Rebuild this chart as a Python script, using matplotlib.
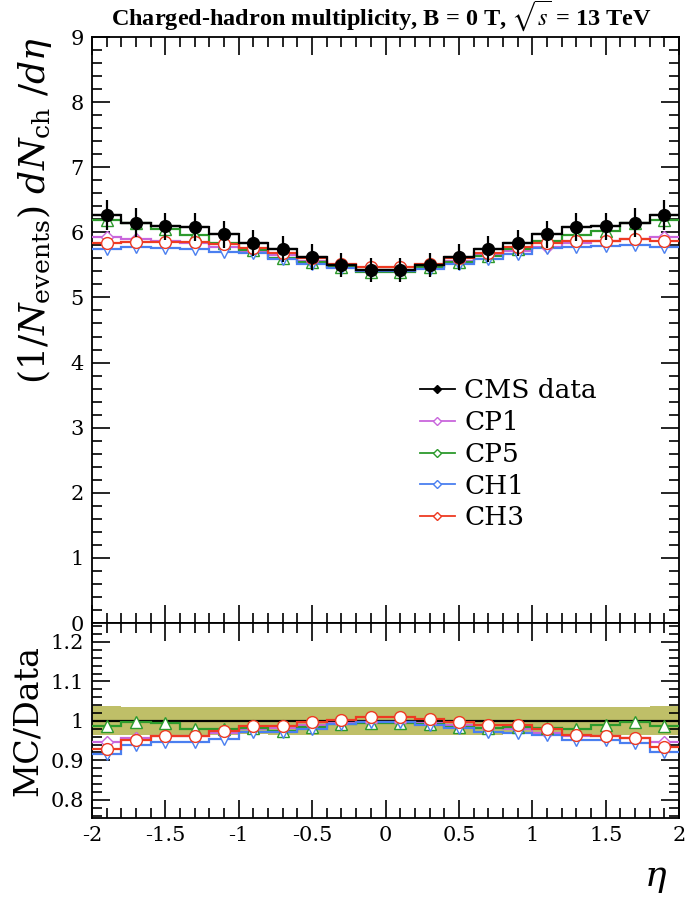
import matplotlib
matplotlib.use("Agg")
import matplotlib.pyplot as plt
from matplotlib.lines import Line2D
from matplotlib.ticker import MultipleLocator, FuncFormatter
import numpy as np

# ---------------- data ----------------
eta_edges = [-2.0, -1.8, -1.6, -1.4, -1.2, -1.0, -0.8, -0.6, -0.4, -0.2, 0.0,
             0.2, 0.4, 0.6, 0.8, 1.0, 1.2, 1.4, 1.6, 1.8, 2.0]

data_vals = [6.27, 6.15, 6.09, 6.08, 5.97, 5.84, 5.75, 5.62, 5.50, 5.42,
             5.42, 5.50, 5.62, 5.75, 5.84, 5.97, 6.08, 6.09, 6.15, 6.27]
data_err = [0.23, 0.22, 0.21, 0.21, 0.21, 0.20, 0.20, 0.20, 0.19, 0.19,
            0.19, 0.19, 0.20, 0.20, 0.20, 0.21, 0.21, 0.21, 0.22, 0.23]

cp1_vals = [5.93, 5.89, 5.86, 5.84, 5.78, 5.72, 5.65, 5.56, 5.47, 5.41,
            5.41, 5.47, 5.56, 5.65, 5.72, 5.78, 5.84, 5.86, 5.89, 5.93]
cp5_vals = [6.19, 6.14, 6.05, 5.96, 5.84, 5.73, 5.61, 5.54, 5.46, 5.39,
            5.39, 5.46, 5.54, 5.64, 5.75, 5.86, 5.96, 6.02, 6.14, 6.19]
ch1_vals = [5.75, 5.77, 5.76, 5.75, 5.70, 5.68, 5.59, 5.51, 5.45, 5.40,
            5.41, 5.44, 5.52, 5.59, 5.66, 5.76, 5.78, 5.79, 5.80, 5.78]
ch3_vals = [5.83, 5.85, 5.85, 5.85, 5.82, 5.76, 5.68, 5.60, 5.51, 5.47,
            5.47, 5.52, 5.61, 5.69, 5.78, 5.84, 5.87, 5.86, 5.89, 5.86]

labels = ["CMS data", "CP1", "CP5", "CH1", "CH3"]
title = r"Charged-hadron multiplicity, B = 0 T, $\sqrt{s}$ = 13 TeV"

# ---------------- style ----------------
plt.rcParams["font.family"] = ["DejaVu Serif"]
plt.rcParams["mathtext.fontset"] = "dejavuserif"
plt.rcParams["axes.unicode_minus"] = False

colors = {"CP1": "#c966dc", "CP5": "#2c9a2c", "CH1": "#4a7ff0", "CH3": "#ee3a22"}
mfc = "white"
markers = {"CP1": "D", "CP5": "^", "CH1": "v", "CH3": "o"}
msizes = {"CP1": 6.5, "CP5": 8, "CH1": 8, "CH3": 8.5}
band_color = "#bfbf68"

edges = np.array(eta_edges)
centers = 0.5 * (edges[:-1] + edges[1:])
halfw = 0.5 * np.diff(edges)
data = np.array(data_vals)
derr = np.array(data_err)
mc = {"CP1": np.array(cp1_vals), "CP5": np.array(cp5_vals),
      "CH1": np.array(ch1_vals), "CH3": np.array(ch3_vals)}
order = ["CP1", "CP5", "CH1", "CH3"]

W, H = 685, 897
fig = plt.figure(figsize=(W / 100, H / 100), dpi=100)

def axrect(x0, y0, x1, y1):
    return [x0 / W, 1 - y1 / H, (x1 - x0) / W, (y1 - y0) / H]

ax = fig.add_axes(axrect(92, 37, 679, 623))
axr = fig.add_axes(axrect(92, 623, 679, 818), sharex=ax)

# ---- top panel ----
for k in order:
    ax.stairs(mc[k], edges, baseline=None, color=colors[k], lw=1.6, zorder=3)
for k in order:
    ax.plot(centers, mc[k], ls="none", marker=markers[k], ms=msizes[k],
            mfc=mfc, mec=colors[k], mew=1.0, zorder=4)
ax.stairs(data, edges, baseline=None, color="black", lw=1.6, zorder=5)
ax.errorbar(centers, data, xerr=halfw, yerr=derr, fmt="o", color="black",
            ms=8.5, elinewidth=1.6, capsize=0, zorder=6)

ax.set_xlim(-2, 2)
ax.set_ylim(0, 9)
ax.yaxis.set_major_locator(MultipleLocator(1))
ax.yaxis.set_minor_locator(MultipleLocator(0.2))
ax.xaxis.set_major_locator(MultipleLocator(0.5))
ax.xaxis.set_minor_locator(MultipleLocator(0.1))
ax.tick_params(labelbottom=False)
ax.set_ylabel(r"$(1/N_{\mathrm{events}})\ dN_{\mathrm{ch}}\ /d\eta$",
              fontsize=26, loc="top")
ax.yaxis.set_label_coords(-0.065, 1.0)

# ---- ratio panel ----
rel = derr / data
axr.stairs(1 + rel, edges, baseline=1 - rel, fill=True, color=band_color,
           lw=0, zorder=1)
axr.stairs(data / data, edges, baseline=None, color="black", lw=1.6, zorder=2)
for k in order:
    axr.stairs(mc[k] / data, edges, baseline=None, color=colors[k], lw=1.6,
               zorder=3)
for k in order:
    axr.plot(centers, mc[k] / data, ls="none", marker=markers[k], ms=msizes[k],
             mfc=mfc, mec=colors[k], mew=1.0, zorder=4)

axr.set_ylim(0.754, 1.248)
axr.yaxis.set_major_locator(MultipleLocator(0.1))
axr.yaxis.set_minor_locator(MultipleLocator(0.02))
axr.set_ylabel("MC/Data", fontsize=24)
axr.yaxis.set_label_coords(-0.082, 0.5)
axr.set_xlabel(r"$\eta$", fontsize=26, loc="right")
axr.xaxis.set_label_coords(0.98, -0.22)

fmt = FuncFormatter(lambda v, p: "%g" % round(v, 3))
for a in (ax, axr):
    a.yaxis.set_major_formatter(fmt)
    a.xaxis.set_major_formatter(fmt)
    a.tick_params(which="both", direction="in", top=True, right=True,
                  labelsize=15, width=1.2, pad=6)
    a.tick_params(which="major", length=13)
    a.tick_params(which="minor", length=7)
    for s in a.spines.values():
        s.set_linewidth(1.3)

# ---- legend ----
handles = [Line2D([], [], color="black", marker="D", ms=4.5, mfc="black", lw=1.3)]
for k in order:
    handles.append(Line2D([], [], color=colors[k], marker="D", ms=4.5,
                          mfc="white", mec=colors[k], lw=1.3))
ax.legend(handles, labels, loc="upper left", bbox_to_anchor=(0.558, 0.418),
          frameon=False, fontsize=19, handlelength=1.35, handletextpad=0.35,
          labelspacing=0.26, borderpad=0, borderaxespad=0)

fig.text((92 + 671) / 2 / W, 1 - 25 / H, title, ha="center", va="baseline",
         fontsize=17.5, fontweight="bold", family="Liberation Serif",
         math_fontfamily="stix")

fig.savefig("out.png", dpi=100)
